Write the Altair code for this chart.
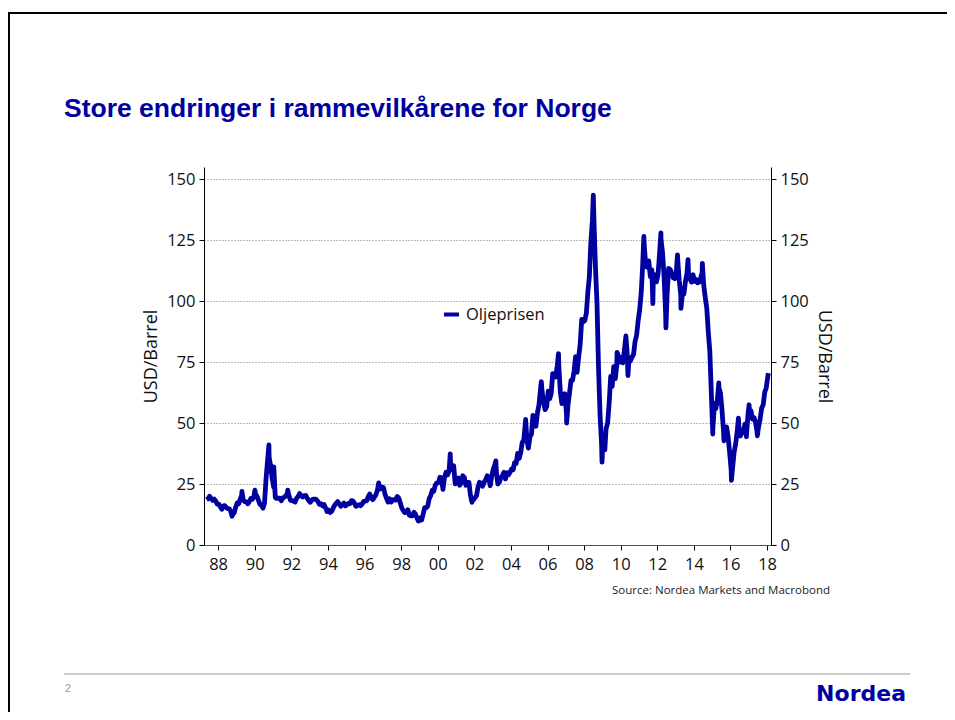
import altair as alt
import pandas as pd

# ---------------- data (Brent oil price, USD/barrel) ----------------
first_month = "1987-05-01"
monthly_price = [
    # 1987 (May-Dec)
    18.6, 19.0, 20.0, 19.0, 18.3, 18.8, 18.0, 16.8,
    # 1988
    16.8, 15.6, 14.7, 16.0, 16.1, 15.3, 14.9, 14.8, 13.4, 12.5, 13.1, 15.4,
    # 1989
    17.2, 16.9, 18.7, 20.3, 18.5, 17.8, 17.7, 16.9, 17.8, 19.1, 18.8, 19.8,
    # 1990
    21.0, 19.9, 18.4, 16.6, 16.4, 15.1, 17.2, 27.2, 34.9, 36.0, 32.3, 27.3,
    # 1991
    23.6, 19.5, 19.1, 19.2, 19.2, 18.2, 19.4, 19.6, 20.2, 21.3, 20.2, 18.3,
    # 1992
    18.2, 18.0, 17.6, 19.1, 19.9, 21.1, 20.2, 19.7, 20.2, 20.3, 19.1, 18.2,
    # 1993
    17.5, 18.5, 18.8, 18.8, 18.6, 17.8, 16.7, 16.9, 16.0, 16.6, 15.2, 13.7,
    # 1994
    14.3, 13.8, 13.7, 15.1, 16.3, 17.1, 17.8, 16.9, 15.9, 16.4, 17.2, 16.0,
    # 1995
    16.5, 17.1, 16.9, 18.2, 18.1, 17.0, 15.9, 16.2, 16.5, 16.1, 16.8, 17.9,
    # 1996
    18.0, 18.2, 19.8, 20.9, 19.1, 18.6, 19.6, 20.5, 22.5, 24.1, 23.0, 23.8,
    # 1997
    23.5, 20.7, 19.1, 17.6, 19.0, 17.6, 18.5, 18.6, 18.4, 19.9, 19.2, 17.2,
    # 1998
    15.1, 14.1, 13.2, 13.4, 14.4, 12.2, 12.0, 12.0, 13.4, 12.6, 11.0, 9.8,
    # 1999
    11.1, 10.3, 12.5, 15.3, 15.3, 15.9, 19.0, 20.3, 22.5, 22.1, 24.6, 25.5,
    # 2000
    25.5, 27.8, 27.5, 22.8, 27.7, 29.8, 28.7, 30.2, 33.1, 30.9, 32.5, 25.1,
    # 2001
    25.6, 27.5, 24.5, 25.7, 28.4, 27.7, 24.5, 25.7, 25.7, 20.5, 18.9, 18.5,
    # 2002
    19.4, 20.3, 23.7, 25.7, 25.4, 24.1, 25.7, 26.7, 28.4, 27.5, 24.3, 28.3,
    # 2003
    31.2, 32.8, 30.3, 25.0, 25.8, 27.6, 28.4, 29.8, 27.1, 29.6, 28.8, 29.8,
    # 2004
    31.2, 30.9, 33.8, 33.4, 37.6, 35.5, 37.9, 42.1, 43.0, 49.8, 43.1, 39.7,
    # 2005
    44.3, 45.5, 53.1, 51.9, 48.7, 54.3, 57.5, 64.1, 62.9, 58.5, 55.5, 56.7,
    # 2006
    63.1, 60.0, 62.1, 70.3, 70.0, 68.9, 73.7, 73.2, 62.5, 58.0, 58.8, 62.0,
    # 2007
    53.7, 57.6, 62.1, 67.5, 67.5, 71.3, 77.2, 70.8, 77.1, 82.3, 92.5, 91.5,
    # 2008
    92.0, 95.0, 103.3, 110.0, 123.9, 133.1, 133.9, 113.9, 99.1, 72.8, 53.2, 41.6,
    # 2009
    44.9, 43.4, 47.7, 50.0, 58.0, 69.1, 65.0, 73.1, 68.2, 73.9, 77.5, 75.0,
    # 2010
    76.9, 74.7, 79.9, 85.7, 77.0, 75.7, 75.5, 77.1, 78.2, 83.5, 86.1, 92.0,
    # 2011
    96.5, 103.7, 114.6, 123.3, 114.5, 113.9, 116.5, 110.1, 112.8, 109.6, 110.8, 107.9,
    # 2012
    110.7, 119.3, 125.5, 119.8, 110.3, 95.2, 102.6, 113.4, 113.0, 111.5, 109.5, 109.2,
    # 2013
    112.3, 116.1, 108.5, 102.3, 102.6, 102.9, 107.9, 111.3, 111.6, 109.1, 107.8, 110.8,
    # 2014
    108.1, 108.9, 107.5, 107.8, 109.5, 111.8, 106.8, 101.6, 97.1, 87.4, 79.4, 62.3,
    # 2015
    47.8, 58.1, 55.9, 59.5, 64.6, 62.3, 55.5, 47.0, 47.6, 48.4, 44.3, 38.0,
    # 2016
    30.7, 32.2, 38.2, 41.6, 46.7, 48.8, 44.7, 46.0, 46.6, 49.5, 44.7, 53.3,
    # 2017
    54.6, 54.9, 51.6, 52.3, 50.3, 46.4, 48.5, 51.7, 56.2, 57.5, 62.7, 64.4,
    # 2018
    69.1,
]

# daily extremes visible in the chart
spike_dates = [
    "1988-10-05", "1989-04-20", "1990-01-05", "1990-10-11", "1991-01-16",
    "1991-10-22", "1994-02-15", "1996-10-10", "1998-12-10", "2000-09-07",
    "2001-11-15", "2003-03-07", "2004-10-22", "2005-08-30", "2006-08-08",
    "2007-01-18", "2008-07-03", "2008-12-24", "2009-02-18", "2009-10-21",
    "2010-05-25", "2011-04-08", "2011-10-04", "2012-03-13", "2012-06-22",
    "2013-02-08", "2013-04-17", "2013-09-06", "2014-06-19", "2015-01-13",
    "2015-05-13", "2015-08-24", "2016-01-20", "2016-06-08", "2016-11-14",
    "2017-01-06", "2017-06-21", "2018-01-25",
]
spike_values = [
    11.8, 22.0, 22.5, 41.0, 32.0,
    22.5, 13.3, 25.5, 9.8, 37.4,
    17.5, 34.5, 51.5, 67.0, 78.5,
    50.0, 143.5, 34.0, 39.0, 79.0,
    69.5, 126.5, 99.0, 128.0, 89.0,
    119.0, 97.0, 117.0, 115.5, 45.5,
    66.5, 42.7, 26.5, 52.0, 44.4,
    57.5, 44.8, 70.5,
]

series_name = "Oljeprisen"
y_ticks = [0, 25, 50, 75, 100, 125, 150]
x_tick_years = list(range(1988, 2019, 2))

# ---------------- build table ----------------
month_dates = pd.date_range(first_month, periods=len(monthly_price), freq="MS") + pd.Timedelta(days=14)
df = pd.DataFrame({
    "date": list(month_dates) + list(pd.to_datetime(spike_dates)),
    "price": monthly_price + spike_values,
})
df = df.sort_values("date").reset_index(drop=True)
df["series"] = series_name

BLUE = "#0000a0"
FONT = "Open Sans"

x_scale = alt.Scale(domain=[alt.DateTime(year=1987, month=3, date=25),
                            alt.DateTime(year=2018, month=3, date=20)])
y_scale = alt.Scale(domain=[0, 155], nice=False)

x_enc = alt.X(
    "date:T", scale=x_scale, title=None,
    axis=alt.Axis(
        values=[alt.DateTime(year=y) for y in x_tick_years], format="%y",
        labelFont=FONT, labelFontSize=16.5, labelColor="#111",
        tickSize=5, tickColor="#000", domainColor="#555", labelPadding=6,
        grid=False, labelFlush=False,
    ),
)

common_axis = dict(
    values=y_ticks, title="USD/Barrel", titleFont=FONT, titleFontSize=18,
    titleFontWeight="normal", titleColor="#111", labelFont=FONT,
    labelFontSize=16.5, labelColor="#111", tickSize=5, tickColor="#000",
    domainColor="#000", labelPadding=4, titlePadding=6,
)

base = alt.Chart(df)

line = base.mark_line(strokeWidth=4.8, strokeJoin="round").encode(
    x=x_enc,
    y=alt.Y("price:Q", scale=y_scale,
            axis=alt.Axis(orient="left", grid=True, gridColor="#777777",
                          gridDash=[1, 2], gridWidth=1, **common_axis)),
    color=alt.Color(
        "series:N",
        scale=alt.Scale(domain=[series_name], range=[BLUE]),
        legend=alt.Legend(
            title=None, orient="none", legendX=238, legendY=138, padding=0,
            symbolType="stroke", symbolSize=225, symbolStrokeWidth=4,
            labelFont=FONT, labelFontSize=16.5, labelColor="#111", labelOffset=5,
        ),
    ),
)

right_axis = base.mark_line(opacity=0).encode(
    x=x_enc,
    y=alt.Y("price:Q", scale=y_scale,
            axis=alt.Axis(orient="right", grid=False, **common_axis)),
)

one = pd.DataFrame({"a": [0]})

title = alt.Chart(one).mark_text(
    text="Store endringer i rammevilkårene for Norge", font="Liberation Sans",
    fontSize=26.5, fontWeight="bold", color=BLUE, align="left", baseline="alphabetic",
).encode(x=alt.value(-140), y=alt.value(-50))

source = alt.Chart(one).mark_text(
    text="Source: Nordea Markets and Macrobond", font=FONT, fontSize=11.5,
    color="#222", align="right", baseline="alphabetic",
).encode(x=alt.value(626), y=alt.value(427))

page_no = alt.Chart(one).mark_text(
    text="2", font="Liberation Sans", fontSize=11, color="#999",
    align="left", baseline="alphabetic",
).encode(x=alt.value(-139), y=alt.value(525))

logo = alt.Chart(one).mark_text(
    text="Nordea", font="DejaVu Sans", fontSize=22, fontWeight="bold",
    color=BLUE, align="right", baseline="alphabetic",
).encode(x=alt.value(702), y=alt.value(534))

footer_line = alt.Chart(one).mark_rule(color="#999", strokeWidth=1).encode(
    x=alt.value(-140), x2=alt.value(706), y=alt.value(507))

border_top = alt.Chart(one).mark_rule(color="#000", strokeWidth=2).encode(
    x=alt.value(-196), x2=alt.value(743), y=alt.value(-154))

border_left = alt.Chart(one).mark_rule(color="#000", strokeWidth=2).encode(
    x=alt.value(-195), y=alt.value(-155), y2=alt.value(545))

chart = alt.layer(
    right_axis, line, title, source, page_no, logo, footer_line, border_top, border_left
).resolve_axis(y="independent").properties(
    width=567, height=378,
    autosize=alt.AutoSizeParams(type="none"),
    padding={"left": 196, "top": 159, "right": 176, "bottom": 167},
).configure_view(strokeWidth=0)

chart.save("out.html", embed_options={"renderer": "svg", "actions": False})
